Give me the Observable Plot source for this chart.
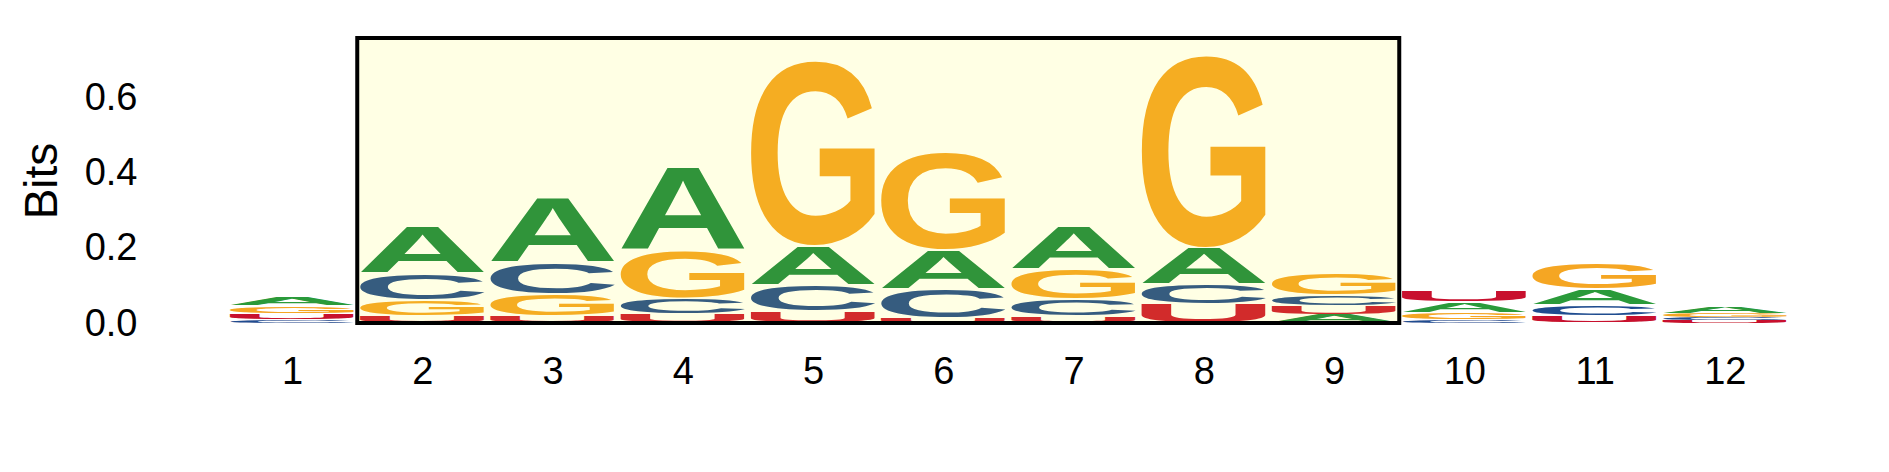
<!DOCTYPE html>
<html><head><meta charset="utf-8">
<script src="https://cdn.jsdelivr.net/npm/d3@7"></script>
<script src="https://cdn.jsdelivr.net/npm/@observablehq/plot@0.6"></script>
<style>body{margin:0;background:#fff}</style>
</head><body><div id="chart"></div>
<script>
// ---- data (bits per letter per position) ----
const positions = [1,2,3,4,5,6,7,8,9,10,11,12];
const bitsA = [0.022,0.124,0.170,0.218,0.1035,0.104,0.114,0.096,0.0226,0.0285,0.041,0.0186];
const bitsC = [0.008,0.071,0.084,0.041,0.070,0.077,0.045,0.053,0.0287,0.008,0.029,0.008];
const bitsG = [0.021,0.041,0.058,0.127,0.491,0.260,0.081,0.511,0.058,0.020,0.068,0.011];
const bitsU = [0.016,0.020,0.019,0.025,0.032,0.013,0.018,0.051,0.024,0.0295,0.020,0.007];
const letters = ["A","C","G","U"];
const yTicks = [0,0.2,0.4,0.6];
const highlight = [1.5, 9.5];
const yMax = 0.757;
const colorsIn  = {A:"#30943a", C:"#365c7f", G:"#f5ad22", U:"#d22b2b"};
const colorsOut = {A:"#2a9a3a", C:"#1f4c8f", G:"#f5a623", U:"#c8102e"};
const FONT = "Liberation Sans, Arial, Helvetica, sans-serif";

// ---- stack letters: smallest at the bottom ----
const series = {A: bitsA, C: bitsC, G: bitsG, U: bitsU};
const stacked = [];
positions.forEach((p, i) => {
  const col = letters.map(l => ({letter: l, value: series[l][i]})).sort((a, b) => a.value - b.value);
  let acc = 0;
  for (const c of col) { stacked.push({pos: p, letter: c.letter, y1: acc, y2: acc + c.value}); acc += c.value; }
});

// glyph metrics
const FS = 200;
const ctx = document.createElement("canvas").getContext("2d");
ctx.font = `bold ${FS}px ${FONT}`;
ctx.textAlign = "left";
ctx.textBaseline = "alphabetic";
const metrics = {};
for (const l of letters) {
  const m = ctx.measureText(l);
  metrics[l] = {l: m.actualBoundingBoxLeft, r: m.actualBoundingBoxRight, a: m.actualBoundingBoxAscent, d: m.actualBoundingBoxDescent};
}

function logoMark(index, scales) {
  const x = scales.x, y = scales.y;
  const g = d3.create("svg:g").attr("text-anchor", "start");
  const bw = x(1.5) - x(0.5);
  const w = bw * 0.955;
  for (const s of stacked) {
    const inside = s.pos > highlight[0] && s.pos < highlight[1];
    const color = (inside ? colorsIn : colorsOut)[s.letter];
    const h = y(s.y1) - y(s.y2);
    const pad = Math.min(0.6, h * 0.12);
    const yTop = y(s.y2) + pad, yBot = y(s.y1) - pad;
    if (yBot - yTop <= 0.05) continue;
    const m = metrics[s.letter];
    const x0 = x(s.pos) - w / 2;
    const sx = w / (m.l + m.r), sy = (yBot - yTop) / (m.a + m.d);
    g.append("text")
      .attr("text-anchor", "start")
      .attr("dominant-baseline", "alphabetic")
      .attr("transform", `translate(${x0 + m.l * sx},${yTop + m.a * sy}) scale(${sx},${sy})`)
      .attr("font-family", FONT).attr("font-weight", "bold").attr("font-size", FS)
      .attr("fill", color).text(s.letter);
  }
  return g.node();
}

const plot = Plot.plot({
  width: 1889, height: 472,
  marginLeft: 227, marginRight: 99, marginTop: 38, marginBottom: 149,
  style: {fontFamily: FONT, background: "#fff"},
  x: {domain: [0.5, 12.5], label: null},
  y: {domain: [0, yMax], label: null},
  marks: [
    Plot.rect([highlight], {x1: d => d[0], x2: d => d[1], y1: d => 0, y2: d => yMax, fill: "#ffffe4"}),
    logoMark,
    Plot.rect([highlight], {x1: d => d[0], x2: d => d[1], y1: d => 0, y2: d => yMax, fill: "none", stroke: "black", strokeWidth: 4}),
    Plot.axisX(positions, {tickSize: 0, tickPadding: 34, fontSize: 38, tickFormat: d => String(d), label: null}),
    Plot.axisY(yTicks, {tickSize: 0, tickPadding: 90, fontSize: 38, tickFormat: d3.format(".1f"), label: null}),
    Plot.text(["Bits"], {text: d => d, frameAnchor: "left", textAnchor: "middle", dx: -185, rotate: -90, fontSize: 46})
  ]
});
document.getElementById("chart").appendChild(plot);
</script>
</body></html>
